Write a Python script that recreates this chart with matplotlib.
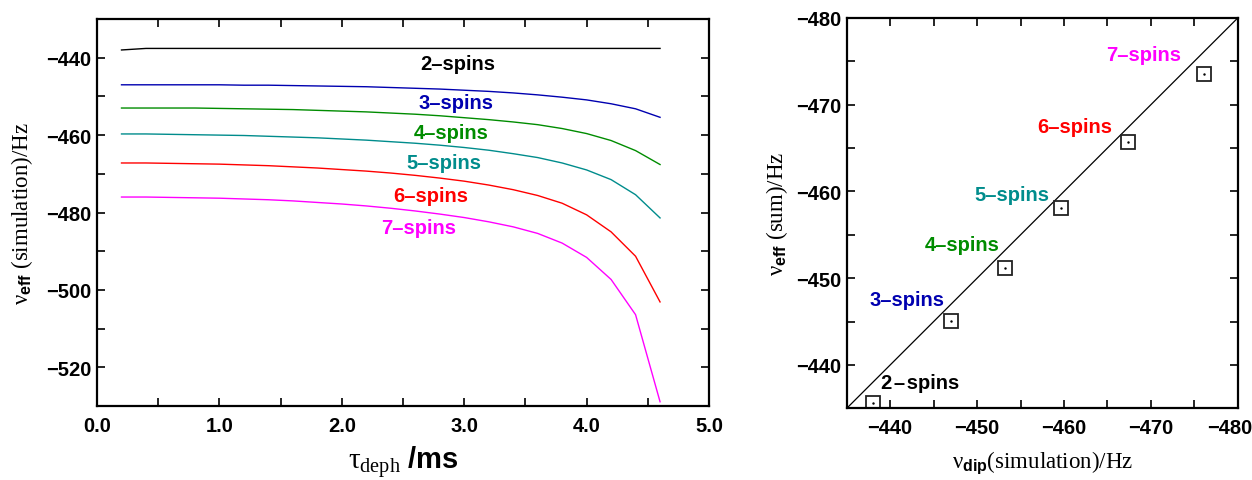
import numpy as np
import matplotlib
matplotlib.use('Agg')
import matplotlib.pyplot as plt
import matplotlib.transforms as mtransforms
from matplotlib.ticker import MultipleLocator

plt.rcParams['font.family'] = ['Liberation Sans', 'DejaVu Sans']
plt.rcParams['mathtext.fontset'] = 'custom'
plt.rcParams['mathtext.rm'] = 'Liberation Serif'
plt.rcParams['mathtext.it'] = 'Liberation Serif'
plt.rcParams['mathtext.bf'] = 'Liberation Sans:bold'
plt.rcParams['mathtext.sf'] = 'Liberation Sans'

# --- data: left panel, nu_eff(simulation) vs dephasing time ---
tau = [0.2, 0.4, 0.6, 0.8, 1.0, 1.2, 1.4, 1.6, 1.8, 2.0, 2.2, 2.4,
       2.6, 2.8, 3.0, 3.2, 3.4, 3.6, 3.8, 4.0, 4.2, 4.4, 4.6]
spins2 = [-438.0, -437.6, -437.6, -437.6, -437.6, -437.6, -437.6, -437.6,
          -437.6, -437.6, -437.6, -437.6, -437.6, -437.6, -437.6, -437.6,
          -437.6, -437.6, -437.6, -437.6, -437.6, -437.6, -437.6]
spins3 = [-447.0, -447.0, -447.0, -447.0, -447.0, -447.1, -447.1, -447.2,
          -447.3, -447.4, -447.5, -447.7, -447.9, -448.1, -448.4, -448.7,
          -449.1, -449.6, -450.2, -450.9, -451.9, -453.2, -455.4]
spins4 = [-453.0, -453.0, -453.0, -453.0, -453.1, -453.2, -453.3, -453.4,
          -453.6, -453.8, -454.0, -454.3, -454.6, -455.0, -455.5, -456.0,
          -456.6, -457.3, -458.3, -459.6, -461.4, -464.0, -467.6]
spins5 = [-459.7, -459.7, -459.8, -459.9, -460.0, -460.1, -460.3, -460.5,
          -460.7, -461.0, -461.3, -461.7, -462.1, -462.6, -463.2, -463.9,
          -464.8, -465.8, -467.2, -469.0, -471.5, -475.4, -481.4]
spins6 = [-467.2, -467.2, -467.3, -467.4, -467.5, -467.7, -467.9, -468.2,
          -468.5, -468.9, -469.3, -469.8, -470.4, -471.1, -471.9, -472.9,
          -474.1, -475.6, -477.6, -480.6, -485.0, -491.3, -503.1]
spins7 = [-476.0, -476.0, -476.1, -476.2, -476.3, -476.5, -476.7, -477.0,
          -477.4, -477.8, -478.3, -478.9, -479.6, -480.4, -481.3, -482.4,
          -483.7, -485.4, -487.9, -491.6, -497.3, -506.4, -528.9]

labels = ['2\u2013spins', '3\u2013spins', '4\u2013spins', '5\u2013spins', '6\u2013spins', '7\u2013spins']
colors = ['black', '#0000b0', '#008c00', '#008c8c', '#ff0000', '#ff00ff']

# --- data: right panel, nu_eff(sum) vs nu_dip(simulation) ---
nu_dip = [-438.0, -447.0, -453.2, -459.7, -467.4, -476.1]
nu_sum = [-435.6, -445.1, -451.2, -458.1, -465.7, -473.6]

fig = plt.figure(figsize=(12.52, 4.81), dpi=100)
ax1 = fig.add_axes([0.0775, 0.1538, 0.4888, 0.8046])
ax2 = fig.add_axes([0.6763, 0.149, 0.3123, 0.8115])

# left panel
curves = [spins2, spins3, spins4, spins5, spins6, spins7]
for y, c in zip(curves, colors):
    ax1.plot(tau, y, color=c, lw=1.0)

left_pos = [(2.95, -441.6), (2.93, -451.7), (2.89, -459.2), (2.83, -467.2), (2.73, -475.7), (2.63, -483.9)]
for (x, y), lab, c in zip(left_pos, labels, colors):
    ax1.text(x, y, lab, color=c, fontsize=14.5, fontweight='bold', ha='center', va='center')

ax1.set_xlim(0, 5)
ax1.set_ylim(-530, -430)
ax1.xaxis.set_major_locator(MultipleLocator(1.0))
ax1.xaxis.set_minor_locator(MultipleLocator(0.5))
ax1.yaxis.set_major_locator(MultipleLocator(20))
ax1.yaxis.set_minor_locator(MultipleLocator(10))
ax1.xaxis.set_major_formatter(plt.FuncFormatter(lambda v, p: f'{v:.1f}'))
ax1.yaxis.set_major_formatter(plt.FuncFormatter(lambda v, p: f'\u2212{abs(v):.0f}' if v < 0 else f'{v:.0f}'))
ax1.set_xlabel(r'$\tau_{\mathrm{deph}}\ \mathbf{/ms}$', fontsize=21, labelpad=7)
ax1.set_ylabel(r'$\nu_{\mathbf{eff}}\ \mathrm{(simulation)/Hz}$', fontsize=16.5, labelpad=8)

# right panel
ax2.plot([-435, -480], [-435, -480], color='black', lw=0.9)
ax2.plot(nu_dip, nu_sum, ls='none', marker='s', ms=10.5, mfc='none', mec='#222222', mew=1.3)
ax2.plot(nu_dip, nu_sum, ls='none', marker='.', ms=1.5, color='black')

right_labels = ['2\u200a\u2013\u200aspins'] + labels[1:]
right_pos = [(-443.5, -438.0), (-441.9, -447.6), (-448.3, -453.9), (-454.0, -459.6), (-461.3, -467.5), (-469.2, -475.8)]
for (x, y), lab, c in zip(right_pos, right_labels, colors):
    ax2.text(x, y, lab, color=c, fontsize=14.5, fontweight='bold', ha='center', va='center')

ax2.set_xlim(-435, -480)
ax2.set_ylim(-435, -480)
for a in (ax2.xaxis, ax2.yaxis):
    a.set_major_locator(MultipleLocator(10))
    a.set_minor_locator(MultipleLocator(5))
    a.set_major_formatter(plt.FuncFormatter(lambda v, p: f'\u2212{abs(v):.0f}'))
ax2.set_xlabel(r'$\nu_{\mathbf{dip}}\mathrm{(simulation)/Hz}$', fontsize=16.5, labelpad=8)
ax2.set_ylabel(r'$\nu_{\mathbf{eff}}\ \mathrm{(sum)/Hz}$', fontsize=16.5, labelpad=4)

for ax in (ax1, ax2):
    for s in ax.spines.values():
        s.set_linewidth(1.6)
    ax.tick_params(which='both', direction='in', top=True, right=True,
                   length=6, width=1.2, labelsize=14.5)
    ax.tick_params(axis='x', pad=7)
    ax.tick_params(axis='y', pad=4)
    for t in ax.get_xticklabels() + ax.get_yticklabels():
        t.set_fontweight('bold')

# last x tick label of the right panel sits at the figure edge; nudge it left
fig.canvas.draw()
shift = mtransforms.ScaledTranslation(-8 / 100, 0, fig.dpi_scale_trans)
for t in ax2.get_xticklabels():
    if t.get_text() == '\u2212480':
        t.set_transform(t.get_transform() + shift)

fig.savefig('out.png', dpi=100)
